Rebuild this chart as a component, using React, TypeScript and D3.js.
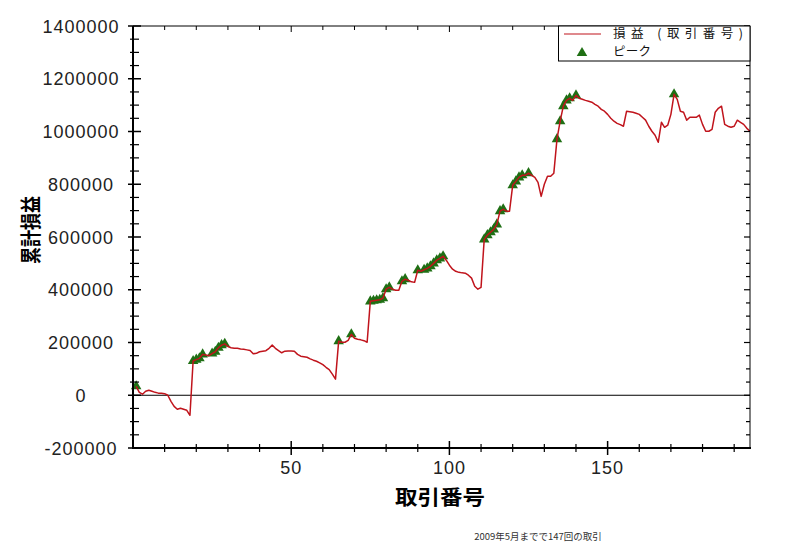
import React from 'react';
import * as d3 from 'd3';

// cumulative P&L per trade number (trade 1 .. 195)
const pnl = [
  34000, 11000, 4000, 15000, 19000, 15000, 11000, 8000, 8000, 6000,
  0, -23000, -42000, -53000, -49000, -53000, -57000, -76000, 130000, 135000,
  140000, 155000, 153000, 150000, 158000, 165000, 180000, 190000, 195000, 185000,
  180000, 178000, 178000, 175000, 174000, 172000, 170000, 157000, 159000, 165000,
  167000, 169000, 178000, 190000, 178000, 169000, 161000, 167000, 168000, 168000,
  167000, 155000, 148000, 146000, 144000, 138000, 133000, 129000, 123000, 116000,
  106000, 97000, 80000, 61000, 205000, 201000, 201000, 208000, 231000, 216000,
  212000, 210000, 207000, 201000, 356000, 358000, 360000, 362000, 368000, 402000,
  409000, 402000, 398000, 398000, 432000, 440000, 436000, 430000, 428000, 474000,
  470000, 476000, 481000, 489000, 500000, 512000, 519000, 527000, 512000, 493000,
  478000, 470000, 466000, 464000, 463000, 455000, 444000, 413000, 402000, 409000,
  591000, 607000, 618000, 629000, 648000, 698000, 705000, 698000, 698000, 796000,
  811000, 826000, 834000, 834000, 842000, 834000, 826000, 807000, 754000, 800000,
  830000, 830000, 842000, 971000, 1039000, 1096000, 1118000, 1126000, 1118000, 1137000,
  1126000, 1122000, 1118000, 1115000, 1111000, 1103000, 1096000, 1084000, 1077000, 1065000,
  1050000, 1039000, 1031000, 1026000, 1020000, 1077000, 1075000, 1073000, 1069000, 1065000,
  1054000, 1043000, 1020000, 1001000, 986000, 959000, 1035000, 1016000, 1024000, 1065000,
  1141000, 1122000, 1077000, 1073000, 1043000, 1054000, 1054000, 1054000, 1062000, 1027000,
  1001000, 1001000, 1008000, 1073000, 1088000, 1096000, 1027000, 1020000, 1016000, 1020000,
  1043000, 1035000, 1027000, 1012000, 1001000,
];

// trade numbers marked as a new peak
const peakTrades = [
  1, 19, 20, 21, 22, 25, 26, 27, 28, 29, 65, 69, 75, 76, 77, 78, 79, 80, 81,
  85, 86, 90, 92, 93, 94, 95, 96, 97, 98, 111, 112, 113, 114, 115, 116, 117,
  120, 121, 122, 123, 125, 134, 135, 136, 137, 138, 140, 171,
];

const yLabels = [-200000, 0, 200000, 400000, 600000, 800000, 1000000, 1200000, 1400000];
const xLabels = [50, 100, 150];

const L = 133, R = 750, T = 26, B = 448;
const numFont = '"Liberation Sans", Arial, sans-serif';
const jpFont = '"Noto Sans CJK JP", sans-serif';
const red = '#c0141c';
const green = '#1f6f14';

export default function App() {
  const x = d3.scaleLinear().domain([0, 195]).range([L, R]);
  const y = d3.scaleLinear().domain([-200000, 1400000]).range([B, T]);

  const pts: [number, number][] = pnl.map((v, i) => [i + 1, v]);
  const path = d3.line<[number, number]>().x(d => x(d[0])).y(d => y(d[1]))(pts) || '';
  const tri = d3.symbol().type(d3.symbolTriangle).size(48)() || '';

  const yTicks = d3.range(-200000, 1400001, 50000);
  const xTicks = d3.range(10, 195, 10);

  return (
    <svg width={785} height={554} style={{ position: 'absolute', left: 0, top: 0, background: '#fff' }}>
      {/* zero line */}
      <line x1={L} x2={R} y1={y(0)} y2={y(0)} stroke="#000" strokeWidth={1} />

      {peakTrades.map(t => (
        <path key={t} d={tri} transform={`translate(${x(t)},${y(pnl[t - 1])})`} fill={green} />
      ))}

      <path d={path} fill="none" stroke={red} strokeWidth={1.5} strokeLinejoin="round" />

      {/* frame */}
      <line x1={L} x2={R} y1={T} y2={T} stroke="#000" strokeWidth={1} />
      <line x1={R} x2={R} y1={T} y2={B} stroke="#000" strokeWidth={1} />
      <line x1={L} x2={L} y1={T} y2={B + 1} stroke="#000" strokeWidth={2} />
      <line x1={L - 1} x2={R + 1} y1={B} y2={B} stroke="#000" strokeWidth={2} />

      {/* y ticks */}
      {yTicks.map(v => {
        const major = v % 200000 === 0;
        return (
          <g key={v}>
            <line x1={L - (major ? 5 : 3)} x2={L + (major ? 8 : 6)} y1={y(v)} y2={y(v)}
              stroke="#000" strokeWidth={major ? 1.5 : 1.2} />
            <line x1={R - (major ? 6 : 4)} x2={R} y1={y(v)} y2={y(v)} stroke="#000" strokeWidth={1.2} />
          </g>
        );
      })}
      {/* x ticks */}
      {xTicks.map(t => {
        const major = t % 50 === 0;
        return (
          <g key={t}>
            <line x1={x(t)} x2={x(t)} y1={B - (major ? 7 : 4)} y2={B + (major ? 7 : 4)}
              stroke="#000" strokeWidth={major ? 1.5 : 1.2} />
            <line x1={x(t)} x2={x(t)} y1={T} y2={T + (major ? 6 : 4)} stroke="#000" strokeWidth={1} />
          </g>
        );
      })}

      {yLabels.map(v => (
        <text key={v} x={81} y={y(v) + 6.5} textAnchor="middle" fontFamily={numFont}
          fontSize={18} letterSpacing={1} fill="#222">{v}</text>
      ))}
      {xLabels.map(t => (
        <text key={t} x={x(t)} y={474} textAnchor="middle" fontFamily={numFont}
          fontSize={18} letterSpacing={1} fill="#222">{t}</text>
      ))}

      <text x={440} y={505} textAnchor="middle" fontFamily={jpFont} fontWeight="bold"
        fontSize={20} textLength={90} lengthAdjust="spacingAndGlyphs" fill="#000">取引番号</text>
      <text transform="translate(38,230) rotate(-90)" textAnchor="middle" fontFamily={jpFont}
        fontWeight="bold" fontSize={21} textLength={68} lengthAdjust="spacingAndGlyphs" fill="#000">累計損益</text>

      {/* legend */}
      <rect x={558.5} y={T} width={R - 558.5} height={35} fill="#fff" stroke="#000" strokeWidth={1} />
      <line x1={564} x2={601} y1={34} y2={34} stroke={red} strokeWidth={1.2} />
      <text x={613} y={38} fontFamily={jpFont} fontSize={12.5} textLength={130} lengthAdjust="spacing" fill="#111">損益 (取引番号)</text>
      <path d={tri} transform="translate(582,53)" fill={green} />
      <text x={613} y={56} fontFamily={jpFont} fontSize={12.5} textLength={38} lengthAdjust="spacing" fill="#111">ピーク</text>

      <text x={538} y={540} textAnchor="middle" fontFamily={jpFont} fontSize={9.5} fill="#333">2009年5月までで147回の取引</text>
    </svg>
  );
}
